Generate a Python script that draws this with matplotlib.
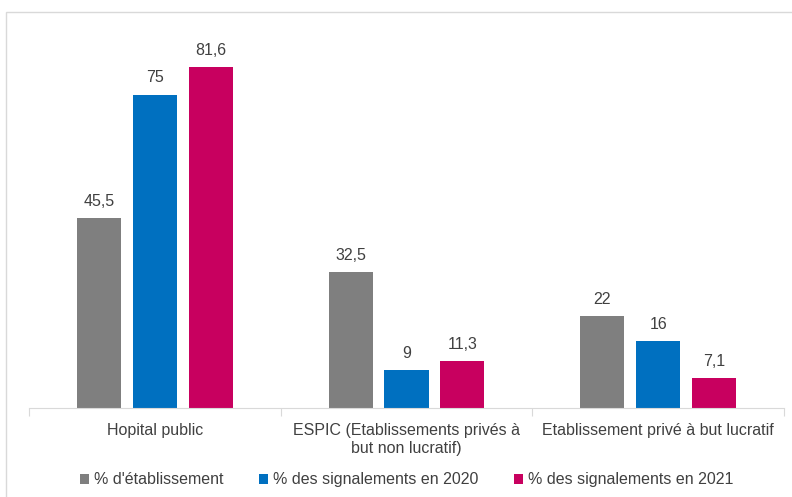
import matplotlib.pyplot as plt
import numpy as np
from matplotlib.patches import Rectangle

plt.rcParams['font.family'] = ['Liberation Sans', 'DejaVu Sans']

# Données
categories = ["Hopital public",
              "ESPIC (Etablissements privés à\nbut non lucratif)",
              "Etablissement privé à but lucratif"]
series_noms = ["% d'établissement",
               "% des signalements en 2020",
               "% des signalements en 2021"]
etablissement = [45.5, 32.5, 22]
signal_2020 = [75, 9, 16]
signal_2021 = [81.6, 11.3, 7.1]
etiquettes = [["45,5", "32,5", "22"],
              ["75", "9", "16"],
              ["81,6", "11,3", "7,1"]]
couleurs = ["#7f7f7f", "#0070c0", "#c8005f"]

fig = plt.figure(figsize=(7.92, 4.97), dpi=100)
ax = fig.add_axes([29/792, 89/497, 755/792, 376/497])

x = np.arange(len(categories))
largeur = 0.175
pas = 0.222
for i, (vals, nom) in enumerate(zip([etablissement, signal_2020, signal_2021], series_noms)):
    barres = ax.bar(x + (i - 1) * pas, vals, largeur, color=couleurs[i], label=nom)
    for b, t in zip(barres, etiquettes[i]):
        ax.text(b.get_x() + b.get_width() / 2, b.get_height() + 2.2, t,
                ha='center', va='bottom', fontsize=11.5, color='#404040')

ax.set_xlim(-0.5, 2.5)
ax.set_ylim(0, 90)
ax.set_yticks([])
for s in ['top', 'right', 'left']:
    ax.spines[s].set_visible(False)
ax.spines['bottom'].set_color('#d9d9d9')
ax.set_xticks([-0.5, 0.5, 1.5, 2.5])
ax.set_xticklabels([])
ax.tick_params(axis='x', length=6, color='#d9d9d9')
ax.set_xticks(x, minor=True)
ax.set_xticklabels(categories, minor=True, fontsize=11.5, color='#404040')
ax.tick_params(axis='x', which='minor', length=0, pad=11)

ax.legend(loc='center', bbox_to_anchor=(0.5, -0.191), ncol=3, frameon=False,
          fontsize=11.5, handlelength=0.6, handleheight=0.6, handletextpad=0.3,
          columnspacing=2.2, labelcolor='#404040')

# cadre gris clair
fig.add_artist(Rectangle((6/792, -0.1), 1.2, (497-12)/497 + 0.1, transform=fig.transFigure,
                         fill=False, edgecolor='#d9d9d9', linewidth=1, clip_on=False))

fig.savefig('out.png', dpi=100)
